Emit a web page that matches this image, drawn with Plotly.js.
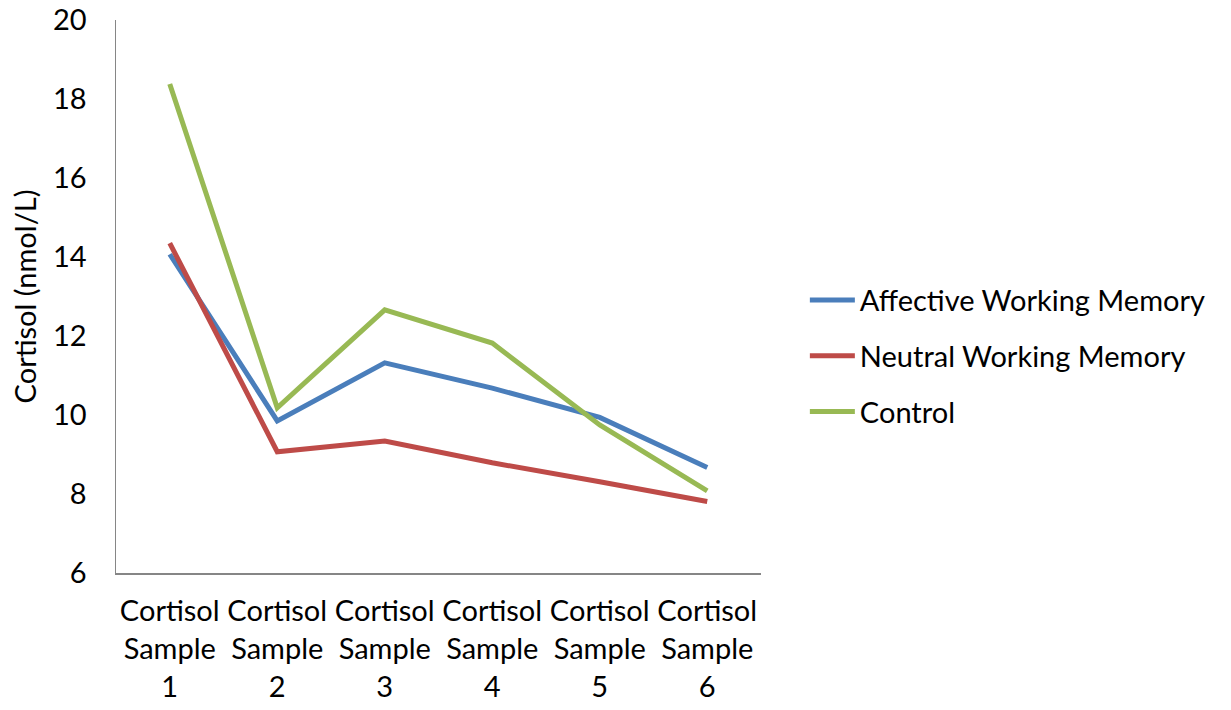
<!DOCTYPE html>
<html>
<head>
<meta charset="utf-8">
<script src="https://cdn.plot.ly/plotly-3.0.1.min.js"></script>
<style>html,body{margin:0;padding:0;background:#fff;}#chart{width:1231px;height:710px;}</style>
</head>
<body>
<div id="chart"></div>
<script>
const categories = ["Cortisol<br>Sample<br>1","Cortisol<br>Sample<br>2","Cortisol<br>Sample<br>3","Cortisol<br>Sample<br>4","Cortisol<br>Sample<br>5","Cortisol<br>Sample<br>6"];
const affective = [14.07, 9.85, 11.32, 10.68, 9.94, 8.67];
const neutral = [14.35, 9.07, 9.34, 8.79, 8.31, 7.81];
const control = [18.38, 10.18, 12.66, 11.82, 9.75, 8.08];
const seriesNames = ["Affective Working Memory", "Neutral Working Memory", "Control"];
const yTicks = [6, 8, 10, 12, 14, 16, 18, 20];

const font = "Lato, 'Open Sans', sans-serif";
const colors = ["#4A7EBB", "#BE4B48", "#98B954"];
const data = [affective, neutral, control].map((vals, i) => ({
  type: "scatter", mode: "lines", x: categories, y: vals, name: seriesNames[i],
  legendgroup: "g" + i,
  line: {color: colors[i], width: 5}
}));

const layout = {
  width: 1231, height: 710,
  margin: {l: 116, r: 470, t: 20, b: 137},
  paper_bgcolor: "#fff", plot_bgcolor: "#fff",
  font: {family: font, size: 29, color: "#000"},
  showlegend: true,
  legend: {x: 1.068, xanchor: "left", y: 0.392, yanchor: "middle", traceorder: "grouped", tracegroupgap: 15, itemwidth: 45, font: {family: font, size: 29, color: "#000"}},
  xaxis: {type: "category", range: [-0.5, 5.5], showgrid: false, zeroline: false, showline: true, linecolor: "#868686", linewidth: 1.5, ticks: "", tickangle: 0, tickfont: {family: font, size: 29}, ticklabelstandoff: 12},
  yaxis: {range: [6, 20], tickvals: yTicks, showgrid: false, zeroline: false, showline: true, linecolor: "#868686", linewidth: 1.5, ticks: "", tickfont: {family: font, size: 29}, ticklabelstandoff: 22,
    title: {text: "Cortisol (nmol/L)", font: {family: font, size: 29}, standoff: 8}}
};
Plotly.newPlot("chart", data, layout, {displayModeBar: false, staticPlot: true});
</script>
</body>
</html>
